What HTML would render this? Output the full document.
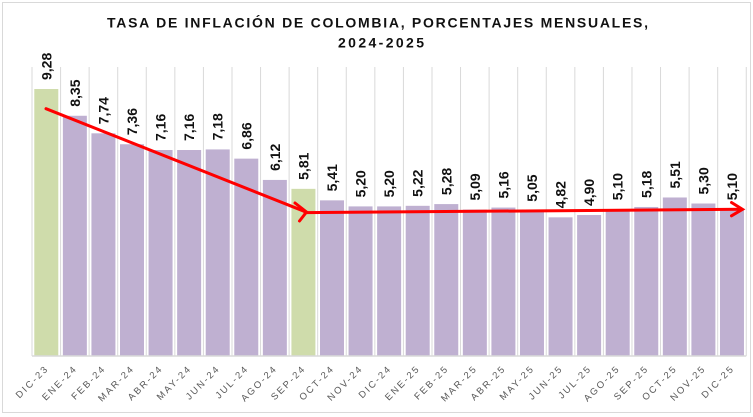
<!DOCTYPE html>
<html>
<head>
<meta charset="utf-8">
<style>
  html,body{margin:0;padding:0;background:#fff;}
  svg{display:block;}
  .t{font-family:"Liberation Sans",Arial,sans-serif;font-weight:bold;font-size:14px;fill:#111;}
  .v{font-family:"Liberation Sans",Arial,sans-serif;font-weight:bold;font-size:14px;fill:#111;}
  .x{font-family:"Liberation Sans",Arial,sans-serif;font-size:9.5px;fill:#595959;letter-spacing:2px;}
</style>
</head>
<body>
<svg width="753" height="417" viewBox="0 0 753 417" xmlns="http://www.w3.org/2000/svg">
  <rect x="0" y="0" width="753" height="417" fill="#fff"/>
  <rect x="2.5" y="2.5" width="748" height="410" fill="none" stroke="#d9d9d9" stroke-width="1"/>

  <text class="t" x="107" y="27.5" textLength="541" lengthAdjust="spacing">TASA DE INFLACIÓN DE COLOMBIA, PORCENTAJES MENSUALES,</text>
  <text class="t" x="338" y="47.5" textLength="86" lengthAdjust="spacing">2024-2025</text>

  <!-- vertical gridlines -->
  <path stroke="#d9d9d9" stroke-width="1" fill="none" d="
    M32,67V356 M60.57,67V356 M89.14,67V356 M117.71,67V356 M146.28,67V356 M174.85,67V356
    M203.42,67V356 M231.99,67V356 M260.56,67V356 M289.13,67V356 M317.7,67V356 M346.27,67V356
    M374.84,67V356 M403.41,67V356 M431.98,67V356 M460.55,67V356 M489.12,67V356 M517.69,67V356
    M546.26,67V356 M574.83,67V356 M603.4,67V356 M631.97,67V356 M660.54,67V356 M689.11,67V356
    M717.68,67V356 M746.25,67V356"/>

  <!-- bars -->
  <g>
    <rect x="34.29" y="89.01" width="24" height="266.99" fill="#cfdcab"/>
    <rect x="62.86" y="115.77" width="24" height="240.23" fill="#bfb0d1"/>
    <rect x="91.43" y="133.32" width="24" height="222.68" fill="#bfb0d1"/>
    <rect x="120" y="144.25" width="24" height="211.75" fill="#bfb0d1"/>
    <rect x="148.57" y="150.01" width="24" height="205.99" fill="#bfb0d1"/>
    <rect x="177.14" y="150.01" width="24" height="205.99" fill="#bfb0d1"/>
    <rect x="205.71" y="149.43" width="24" height="206.57" fill="#bfb0d1"/>
    <rect x="234.28" y="158.64" width="24" height="197.36" fill="#bfb0d1"/>
    <rect x="262.85" y="179.93" width="24" height="176.07" fill="#bfb0d1"/>
    <rect x="291.42" y="188.85" width="24" height="167.15" fill="#cfdcab"/>
    <rect x="319.99" y="200.35" width="24" height="155.65" fill="#bfb0d1"/>
    <rect x="348.56" y="206.4" width="24" height="149.6" fill="#bfb0d1"/>
    <rect x="377.13" y="206.4" width="24" height="149.6" fill="#bfb0d1"/>
    <rect x="405.7" y="205.82" width="24" height="150.18" fill="#bfb0d1"/>
    <rect x="434.27" y="204.09" width="24" height="151.91" fill="#bfb0d1"/>
    <rect x="462.84" y="209.56" width="24" height="146.44" fill="#bfb0d1"/>
    <rect x="491.41" y="207.55" width="24" height="148.45" fill="#bfb0d1"/>
    <rect x="519.98" y="210.71" width="24" height="145.29" fill="#bfb0d1"/>
    <rect x="548.55" y="217.33" width="24" height="138.67" fill="#bfb0d1"/>
    <rect x="577.12" y="215.03" width="24" height="140.97" fill="#bfb0d1"/>
    <rect x="605.69" y="209.27" width="24" height="146.73" fill="#bfb0d1"/>
    <rect x="634.26" y="206.97" width="24" height="149.03" fill="#bfb0d1"/>
    <rect x="662.83" y="197.48" width="24" height="158.52" fill="#bfb0d1"/>
    <rect x="691.4" y="203.52" width="24" height="152.48" fill="#bfb0d1"/>
    <rect x="719.97" y="209.27" width="24" height="146.73" fill="#bfb0d1"/>
  </g>

  <!-- axis line -->
  <line x1="32" y1="356" x2="746.25" y2="356" stroke="#d9d9d9" stroke-width="1.5"/>

  <!-- value labels -->
  <g class="v">
    <text transform="translate(51.29,80.01) rotate(-90)">9,28</text>
    <text transform="translate(79.86,106.77) rotate(-90)">8,35</text>
    <text transform="translate(108.43,124.32) rotate(-90)">7,74</text>
    <text transform="translate(137,135.25) rotate(-90)">7,36</text>
    <text transform="translate(165.57,141.01) rotate(-90)">7,16</text>
    <text transform="translate(194.14,141.01) rotate(-90)">7,16</text>
    <text transform="translate(222.71,140.43) rotate(-90)">7,18</text>
    <text transform="translate(251.28,149.64) rotate(-90)">6,86</text>
    <text transform="translate(279.85,170.93) rotate(-90)">6,12</text>
    <text transform="translate(308.42,179.85) rotate(-90)">5,81</text>
    <text transform="translate(336.99,191.35) rotate(-90)">5,41</text>
    <text transform="translate(365.56,197.4) rotate(-90)">5,20</text>
    <text transform="translate(394.13,197.4) rotate(-90)">5,20</text>
    <text transform="translate(422.7,196.82) rotate(-90)">5,22</text>
    <text transform="translate(451.27,195.09) rotate(-90)">5,28</text>
    <text transform="translate(479.84,200.56) rotate(-90)">5,09</text>
    <text transform="translate(508.41,198.55) rotate(-90)">5,16</text>
    <text transform="translate(536.98,201.71) rotate(-90)">5,05</text>
    <text transform="translate(565.55,208.33) rotate(-90)">4,82</text>
    <text transform="translate(594.12,206.03) rotate(-90)">4,90</text>
    <text transform="translate(622.69,200.27) rotate(-90)">5,10</text>
    <text transform="translate(651.26,197.97) rotate(-90)">5,18</text>
    <text transform="translate(679.83,188.48) rotate(-90)">5,51</text>
    <text transform="translate(708.4,194.52) rotate(-90)">5,30</text>
    <text transform="translate(736.97,200.27) rotate(-90)">5,10</text>
  </g>

  <!-- x labels -->
  <g class="x" text-anchor="end">
    <text transform="translate(49.29,369) rotate(-45)">DIC-23</text>
    <text transform="translate(77.86,369) rotate(-45)">ENE-24</text>
    <text transform="translate(106.43,369) rotate(-45)">FEB-24</text>
    <text transform="translate(135,369) rotate(-45)">MAR-24</text>
    <text transform="translate(163.57,369) rotate(-45)">ABR-24</text>
    <text transform="translate(192.14,369) rotate(-45)">MAY-24</text>
    <text transform="translate(220.71,369) rotate(-45)">JUN-24</text>
    <text transform="translate(249.28,369) rotate(-45)">JUL-24</text>
    <text transform="translate(277.85,369) rotate(-45)">AGO-24</text>
    <text transform="translate(306.42,369) rotate(-45)">SEP-24</text>
    <text transform="translate(334.99,369) rotate(-45)">OCT-24</text>
    <text transform="translate(363.56,369) rotate(-45)">NOV-24</text>
    <text transform="translate(392.13,369) rotate(-45)">DIC-24</text>
    <text transform="translate(420.7,369) rotate(-45)">ENE-25</text>
    <text transform="translate(449.27,369) rotate(-45)">FEB-25</text>
    <text transform="translate(477.84,369) rotate(-45)">MAR-25</text>
    <text transform="translate(506.41,369) rotate(-45)">ABR-25</text>
    <text transform="translate(534.98,369) rotate(-45)">MAY-25</text>
    <text transform="translate(563.55,369) rotate(-45)">JUN-25</text>
    <text transform="translate(592.12,369) rotate(-45)">JUL-25</text>
    <text transform="translate(620.69,369) rotate(-45)">AGO-25</text>
    <text transform="translate(649.26,369) rotate(-45)">SEP-25</text>
    <text transform="translate(677.83,369) rotate(-45)">OCT-25</text>
    <text transform="translate(706.4,369) rotate(-45)">NOV-25</text>
    <text transform="translate(734.97,369) rotate(-45)">DIC-25</text>
  </g>

  <!-- arrows -->
  <g stroke="#ff0000" stroke-width="3" fill="none" stroke-linecap="round" stroke-linejoin="miter">
    <line x1="46" y1="108.7" x2="305.5" y2="211.8"/>
    <polyline points="295,203 306.5,212 299.5,221"/>
    <line x1="305" y1="212.6" x2="741.5" y2="209.3"/>
    <polyline points="731.5,202.5 742.5,209.3 731.5,215.8"/>
  </g>
</svg>
</body>
</html>
